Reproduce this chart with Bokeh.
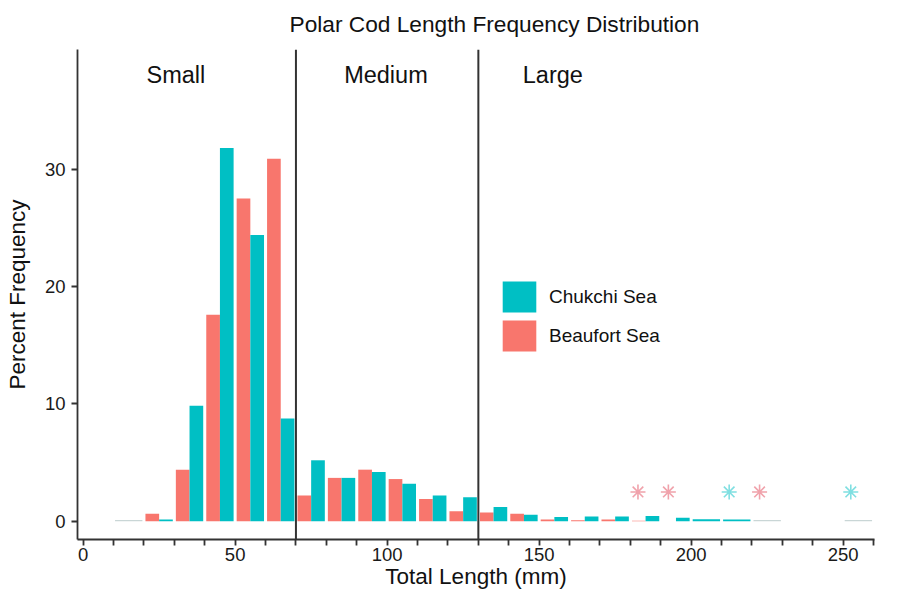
from bokeh.plotting import figure
from bokeh.models import (ColumnDataSource, Range1d, FixedTicker, Span, Legend,
                          LegendItem, Title)
from bokeh.core.properties import value
from bokeh.embed import file_html
from bokeh.resources import INLINE

# ---------------- data ----------------
bin_starts = [10, 20, 30, 40, 50, 60, 70, 80, 90, 100, 110, 120, 130, 140, 150,
              160, 170, 180, 190, 200, 210, 220, 230, 240, 250]
# percent frequency per 10 mm bin (None = no fish of that sea in the bin)
beaufort = [None, 0.65, 4.4, 17.6, 27.5, 30.9, 2.2, 3.7, 4.4, 3.6, 1.9, 0.85, 0.75,
            0.65, 0.15, 0.1, 0.15, 0.05, 0.0, None, None, None, None, None, None]
chukchi = [None, 0.15, 9.85, 31.8, 24.4, 8.75, 5.2, 3.7, 4.2, 3.2, 2.2, 2.05, 1.22,
           0.56, 0.36, 0.4, 0.4, 0.45, 0.3, 0.17, 0.15, None, None, None, None]
trace_bins = [10, 220, 250]          # bins with only a trace of fish
trace_value = 0.12
asterisk_beaufort_x = [182.5, 192.5, 222.5]
asterisk_chukchi_x = [212.5, 252.5]
asterisk_y = 2.5
class_breaks = [70, 130]
class_names = ["Small", "Medium", "Large"]
class_label_x = [30.5, 99.6, 154.5]
class_label_y = 38.0
x_ticks = list(range(0, 261, 10))
y_ticks = [0, 10, 20, 30]

RED = "#F8766D"
TEAL = "#00BFC4"
FONT = "Liberation Sans"
BIN = 10
DODGE = 0.9 * BIN

# ---------------- bar geometry via ggplot-like dodge ----------------
def dodge(own, other, side):
    xs, ws, tops = [], [], []
    for b, v, o in zip(bin_starts, own, other):
        if v is None:
            continue
        c = b + BIN / 2
        if o is None:
            xs.append(c); ws.append(DODGE)
        else:
            xs.append(c + side * DODGE / 4); ws.append(DODGE / 2)
        tops.append(v)
    return ColumnDataSource(dict(x=xs, w=ws, top=tops))

src_b = dodge(beaufort, chukchi, -1)
src_c = dodge(chukchi, beaufort, +1)
src_t = ColumnDataSource(dict(x=[b + BIN / 2 for b in trace_bins],
                              top=[trace_value] * len(trace_bins)))

p = figure(width=880, height=593, output_backend="svg", toolbar_location=None,
           x_range=Range1d(-1.85, 260.3), y_range=Range1d(-1.55, 40.2),
           min_border_left=77, min_border_right=6, min_border_top=49,
           min_border_bottom=54, title=None)
p.outline_line_color = None
p.xgrid.visible = False
p.ygrid.visible = False
p.background_fill_color = "white"

rt = p.vbar(x="x", width=DODGE, top="top", bottom=0, source=src_t,
            fill_color="#C9D6D6", line_color=None)
rb = p.vbar(x="x", width="w", top="top", bottom=0, source=src_b,
            fill_color=RED, line_color=None)
rc = p.vbar(x="x", width="w", top="top", bottom=0, source=src_c,
            fill_color=TEAL, line_color=None)

p.scatter(x=asterisk_beaufort_x, y=[asterisk_y] * len(asterisk_beaufort_x),
          marker="asterisk", size=15, line_color="#E8707E", line_alpha=0.65,
          line_width=1.6)
p.scatter(x=asterisk_chukchi_x, y=[asterisk_y] * len(asterisk_chukchi_x),
          marker="asterisk", size=15, line_color=TEAL, line_alpha=0.5, line_width=1.6)

for br in class_breaks:
    p.add_layout(Span(location=br, dimension="height", line_color="#333333",
                      line_width=2))

p.text(x=class_label_x, y=[class_label_y] * 3, text=class_names,
       text_font=value(FONT), text_font_size="23.5px", text_color="#111111",
       text_align="center", text_baseline="middle")

# axes
for ax in (p.xaxis[0], p.yaxis[0]):
    ax.axis_line_color = "#333333"
    ax.axis_line_width = 1.8
    ax.major_tick_line_color = "#333333"
    ax.major_tick_line_width = 1.8
    ax.major_tick_in = 0
    ax.major_tick_out = 6
    ax.minor_tick_line_color = None
    ax.major_label_text_font = FONT
    ax.major_label_text_font_size = "18.5px"
    ax.major_label_text_color = "#1a1a1a"
    ax.axis_label_text_font = FONT
    ax.axis_label_text_font_size = "22.5px"
    ax.axis_label_text_font_style = "normal"
    ax.axis_label_text_color = "#111111"

p.xaxis.major_label_standoff = 2
p.yaxis.major_label_standoff = 6
p.xaxis.ticker = FixedTicker(ticks=x_ticks)
p.xaxis.major_label_overrides = {t: ("" if t % 50 else str(t)) for t in x_ticks}
p.yaxis.ticker = FixedTicker(ticks=y_ticks)
p.xaxis.axis_label = "Total Length (mm)"
p.yaxis.axis_label = "Percent Frequency"
p.xaxis.axis_label_standoff = 0
p.yaxis.axis_label_standoff = 12

# title above the frame
p.add_layout(Title(text="Polar Cod Length Frequency Distribution",
                   text_font=FONT, text_font_size="22.7px", text_color="#111111",
                   text_font_style="normal", align="left", offset=212,
                   vertical_align="top", standoff=21), "above")

legend = Legend(items=[LegendItem(label="Chukchi Sea", renderers=[rc]),
                       LegendItem(label="Beaufort Sea", renderers=[rb])],
                location=(421, 184), glyph_width=42, glyph_height=39,
                label_standoff=9, spacing=0, padding=0, margin=0,
                border_line_color=None, background_fill_alpha=0,
                label_text_font=FONT, label_text_font_size="19px",
                label_text_color="#111111")
p.add_layout(legend)

open("out.html", "w").write(file_html(p, INLINE))
